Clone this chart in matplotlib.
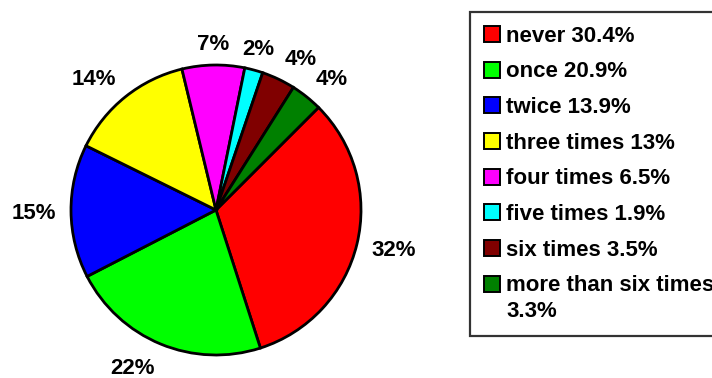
import matplotlib.pyplot as plt
from matplotlib.patches import Rectangle
from matplotlib.legend_handler import HandlerPatch
import numpy as np

categories = ['never', 'once', 'twice', 'three times', 'four times',
              'five times', 'six times', 'more than six times']
values = [30.4, 20.9, 13.9, 13, 6.5, 1.9, 3.5, 3.3]
pie_pct = [32, 22, 15, 14, 7, 2, 4, 4]
colors = ['#FF0000', '#00FF00', '#0000FF', '#FFFF00', '#FF00FF',
          '#00FFFF', '#800000', '#008000']

plt.rcParams['font.family'] = ['Liberation Sans', 'DejaVu Sans']
plt.rcParams['font.weight'] = 'bold'
fs = 16


class RaisedPatch(HandlerPatch):
    # legend square lined up with the first line of a two-line label
    def __init__(self, shift, **kw):
        super().__init__(**kw)
        self.shift = shift

    def _create_patch(self, legend, orig_handle, xdescent, ydescent, width, height, fontsize):
        return Rectangle(xy=(-xdescent, -ydescent + self.shift * fontsize),
                         width=width, height=height)


fig = plt.figure(figsize=(7.12, 3.78), dpi=100)
# pie axes: centre (216, 210) px, radius 145 px
cx, cy, r = 216, 210, 145
ax = fig.add_axes([(cx - r) / 712, (378 - cy - r) / 378, 2 * r / 712, 2 * r / 378])

wedges, _ = ax.pie(values, colors=colors, startangle=45, counterclock=False,
                   radius=1, wedgeprops=dict(edgecolor='black', linewidth=2.0))
ax.set_xlim(-1, 1)
ax.set_ylim(-1, 1)
ax.set_aspect('equal')
ax.axis('off')

# percentage labels just outside each wedge
for w, p in zip(wedges, pie_pct):
    ang = np.deg2rad((w.theta1 + w.theta2) / 2)
    c, s = np.cos(ang), np.sin(ang)
    ha = 'left' if c > 0.3 else ('right' if c < -0.3 else 'center')
    va = 'baseline' if s > 0.3 else ('top' if s < -0.3 else 'center_baseline')
    ax.text(1.105 * c, 1.105 * s, f'{p}%', ha=ha, va=va,
            fontsize=fs, fontweight='bold', clip_on=False)

labels = []
for c, v in zip(categories, values):
    sep = '\n' if len(c) > 12 else ' '
    labels.append(f'{c}{sep}{v:g}%')

leg = fig.legend(wedges, labels, loc='upper left', bbox_to_anchor=(470 / 712, 1 - 12 / 378),
                 borderaxespad=0, fontsize=fs, frameon=True, fancybox=False,
                 handlelength=0.72, handleheight=0.72, handletextpad=0.28,
                 labelspacing=0.66, borderpad=0.62,
                 handler_map={wedges[-1]: RaisedPatch(0.66)})
leg.get_frame().set_edgecolor('black')
leg.get_frame().set_linewidth(1.6)
for h in leg.legend_handles:
    h.set_linewidth(1.4)
for t in leg.get_texts():
    t.set_linespacing(1.3)

fig.savefig('out.png', dpi=100)
